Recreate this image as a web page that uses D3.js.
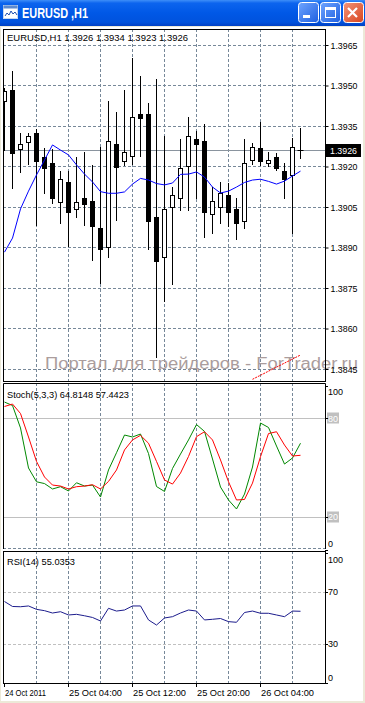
<!DOCTYPE html>
<html><head><meta charset="utf-8">
<script src="https://cdn.jsdelivr.net/npm/d3@7/dist/d3.min.js"></script>
<style>
html,body{margin:0;padding:0;background:#ECE9D8;overflow:hidden;}
svg{display:block;}
text{font-family:"Liberation Sans",Arial,sans-serif;}
</style></head><body>
<svg id="c" width="365" height="703"></svg>
<script>
// ---------------- data ----------------
const symbolName = "EURUSD";
const periodName = "H1";
const opens  = [1.39441,1.39481,1.39263,1.39289,1.39322,1.39233,1.39211,1.39067,1.39141,1.39041,1.39081,1.39070,1.38970,1.38900,1.39281,1.39219,1.39237,1.39393,1.39393,1.39011,1.38863,1.39048,1.39081,1.39200,1.39300,1.39293,1.39022,1.39048,1.39093,1.39041,1.38996,1.39222,1.39267,1.39211,1.39233,1.39181,1.39167,1.3926];
const highs  = [1.39489,1.39552,1.39322,1.39322,1.39337,1.39267,1.39263,1.39181,1.39181,1.39233,1.39252,1.39204,1.39270,1.39441,1.39400,1.39481,1.39600,1.39533,1.39433,1.39522,1.39311,1.39122,1.39300,1.39381,1.39330,1.39356,1.39122,1.39141,1.39137,1.39081,1.39300,1.39285,1.39363,1.39252,1.39248,1.39211,1.39304,1.3934];
const lows   = [1.39259,1.39119,1.39178,1.39207,1.38981,1.39100,1.39063,1.38989,1.38904,1.39011,1.38981,1.38852,1.38767,1.38863,1.39000,1.39204,1.39207,1.39237,1.38893,1.38493,1.38700,1.38763,1.39037,1.39037,1.39081,1.38937,1.38952,1.38989,1.38978,1.38930,1.38970,1.39207,1.39204,1.39200,1.39185,1.39081,1.38952,1.3923];
const closes = [1.39478,1.39248,1.39281,1.39311,1.39219,1.39193,1.39081,1.39152,1.39030,1.39067,1.39059,1.38978,1.38893,1.39293,1.39196,1.39252,1.39381,1.39378,1.38996,1.38848,1.39041,1.39093,1.39193,1.39311,1.39281,1.39030,1.39070,1.39100,1.39030,1.38989,1.39211,1.39270,1.39219,1.39222,1.39193,1.39152,1.39270,1.3926];
const maValues = [1.38881,1.38933,1.39041,1.39107,1.39167,1.39222,1.39278,1.39259,1.39241,1.39204,1.39170,1.39141,1.39105,1.39099,1.39099,1.39104,1.39133,1.39154,1.39148,1.39135,1.39130,1.39137,1.39169,1.39170,1.39178,1.39159,1.39122,1.39100,1.39107,1.39122,1.39139,1.39148,1.39151,1.39143,1.39133,1.39144,1.39163,1.39181];
const stochMain   = [89.9,87.8,74.1,49.7,41.3,40.2,36.9,38.3,35.7,40.7,38.7,39.3,32.0,48.5,59.0,69.8,68.6,70.4,58.5,38.4,35.4,49.4,58.2,66.8,76.2,72.0,55.2,38.1,30.2,24.7,33.8,50.3,77.1,74.4,63.1,52.1,55.8,64.8148];
const stochSignal = [87.2,88.7,82.9,68.6,53.7,44.2,39.3,38.7,36.9,38.3,38.7,39.5,36.9,41.5,48.5,60.7,66.8,69.6,64.8,53.7,42.4,39.9,46.6,56.7,68.8,71.8,66.8,54.6,41.3,30.2,30.5,40.5,56.6,70.7,71.8,63.7,57.0,57.4423];
const rsiValues   = [62.5,58.7,58.5,59.1,56.5,55.5,53.7,54.7,52.2,52.7,51.6,50.3,47.6,57.3,55.2,56.0,59.1,59.1,48.4,44.5,49.9,50.9,53.7,56.0,55.2,48.4,48.9,49.5,47.1,46.6,54.1,55.2,53.5,53.5,52.2,50.9,55.2,55.0353];
const priceTicks = [1.3965,1.3950,1.3935,1.3920,1.3905,1.3890,1.3875,1.3860,1.3845];
const stochAxisTicks = [100,80,20,0];
const stochLevels = [80,20];
const rsiAxisTicks = [100,70,30,0];
const rsiLevels = [70,30];
const timeLabels = ["24 Oct 2011","25 Oct 04:00","25 Oct 12:00","25 Oct 20:00","26 Oct 04:00"];
const timeLabelBars = [0,8,16,24,32];
const gridBars = [4,8,12,16,20,24,28,32,36];
const trendBars = [31,37];
const trendPrices = [1.38410,1.38500];
const watermark = "Портал для трейдеров - ForTrader.ru";

// ---------------- layout ----------------
const svg = d3.select("#c");
const P = {x0:3, x1:325};
const mainP = {y0:29, y1:381};
const stP = {y0:383, y1:549};
const rsP = {y0:551, y1:683};
const n = closes.length;
const x = d3.scaleLinear().domain([0, n-1]).range([4.5, 4.5 + 8*(n-1)]);
const yP = d3.scaleLinear().domain([1.3845,1.3965]).range([368.5,44.5]);
const yS = d3.scaleLinear().domain([0,100]).range([549.5,385.5]);
const yR = d3.scaleLinear().domain([0,100]).range([683.2,552.5]);
const GRID = "#778899";
const px = v => Math.round(v) + 0.5;

// title bar
const defs = svg.append("defs");
const g1 = defs.append("linearGradient").attr("id","tb").attr("x1",0).attr("y1",0).attr("x2",0).attr("y2",1);
[["0","#3E8EF8"],["0.12","#0C64EE"],["0.5","#0058E6"],["0.85","#0052DD"],["1","#0040C4"]].forEach(s=>g1.append("stop").attr("offset",s[0]).attr("stop-color",s[1]));
const g2 = defs.append("linearGradient").attr("id","btn").attr("x1",0).attr("y1",0).attr("x2",1).attr("y2",1);
[["0","#6FA5FF"],["1","#1E5FE0"]].forEach(s=>g2.append("stop").attr("offset",s[0]).attr("stop-color",s[1]));
const g3 = defs.append("linearGradient").attr("id","cls").attr("x1",0).attr("y1",0).attr("x2",1).attr("y2",1);
[["0","#F39478"],["1","#D8451F"]].forEach(s=>g3.append("stop").attr("offset",s[0]).attr("stop-color",s[1]));
defs.append("clipPath").attr("id","clipMain").append("rect").attr("x",P.x0+0.5).attr("y",mainP.y0+0.5).attr("width",P.x1-P.x0-1).attr("height",mainP.y1-mainP.y0-1);
defs.append("clipPath").attr("id","clipSt").append("rect").attr("x",P.x0+0.5).attr("y",stP.y0+0.5).attr("width",P.x1-P.x0-1).attr("height",stP.y1-stP.y0);
defs.append("clipPath").attr("id","clipRs").append("rect").attr("x",P.x0+0.5).attr("y",rsP.y0+0.5).attr("width",P.x1-P.x0-1).attr("height",rsP.y1-rsP.y0-1);

svg.append("rect").attr("x",0).attr("y",0).attr("width",365).attr("height",26).attr("fill","url(#tb)");
// icon
const ic = svg.append("g").attr("transform","translate(3,4)");
ic.append("rect").attr("x",0.5).attr("y",1.5).attr("width",14).attr("height",13).attr("fill","#ffffff").attr("stroke","#c8d8f0");
ic.append("rect").attr("x",0.5).attr("y",1.5).attr("width",14).attr("height",3).attr("fill","#5c8ad0");
ic.append("polyline").attr("points","2,12 4,9 6,11 8,7 10,10 12,8 14,11").attr("fill","none").attr("stroke","#2050b0").attr("stroke-width",1);
svg.append("text").attr("x",22).attr("y",18).attr("fill","#ffffff").attr("font-weight","bold").attr("font-size","14px")
  .attr("textLength",66).attr("lengthAdjust","spacingAndGlyphs").text(symbolName + " ," + periodName);
// buttons
function btn(x0, fill){ return svg.append("rect").attr("x",x0+0.5).attr("y",2.5).attr("width",20).attr("height",20).attr("rx",3).attr("fill",fill).attr("stroke","#ffffff").attr("stroke-width",1); }
btn(298,"url(#btn)");
svg.append("rect").attr("x",303).attr("y",15).attr("width",7).attr("height",3).attr("fill","#fff");
btn(320,"url(#btn)");
svg.append("rect").attr("x",325.5).attr("y",7.5).attr("width",10).attr("height",10).attr("fill","none").attr("stroke","#fff").attr("stroke-width",1);
svg.append("rect").attr("x",325).attr("y",7).attr("width",11).attr("height",3).attr("fill","#fff");
btn(343,"url(#cls)");
svg.append("path").attr("d","M348,8 L357,17 M357,8 L348,17").attr("stroke","#fff").attr("stroke-width",2.2);

// chart background
svg.append("rect").attr("x",1).attr("y",27).attr("width",362).attr("height",674).attr("fill","#ffffff");

// ---------- grids ----------
function vgrid(panel){
  svg.append("g").selectAll("line").data(gridBars).join("line")
    .attr("x1",d=>x(d)).attr("x2",d=>x(d)).attr("y1",panel.y0).attr("y2",panel.y1)
    .attr("stroke",GRID).attr("stroke-dasharray","3,2").attr("stroke-width",1);
}
vgrid(mainP); vgrid(stP); vgrid(rsP);
svg.append("g").selectAll("line").data(priceTicks).join("line")
  .attr("x1",P.x0).attr("x2",P.x1).attr("y1",d=>px(yP(d))).attr("y2",d=>px(yP(d)))
  .attr("stroke",GRID).attr("stroke-dasharray","3,2");
svg.append("line").attr("x1",P.x0).attr("x2",P.x1).attr("y1",stP.y1-0.5).attr("y2",stP.y1-0.5).attr("stroke",GRID).attr("stroke-dasharray","3,2");
svg.append("g").selectAll("line").data(stochLevels).join("line")
  .attr("x1",P.x0).attr("x2",P.x1).attr("y1",d=>px(yS(d))).attr("y2",d=>px(yS(d))).attr("stroke","#c0c0c0");
svg.append("g").selectAll("line").data(rsiLevels).join("line")
  .attr("x1",P.x0).attr("x2",P.x1).attr("y1",d=>px(yR(d))).attr("y2",d=>px(yR(d))).attr("stroke","#c0c0c0").attr("stroke-dasharray","3,2");

// watermark
svg.append("text").attr("x",45).attr("y",369).attr("font-size","16px").attr("fill","#ab9d9d")
  .attr("textLength",313).attr("lengthAdjust","spacingAndGlyphs").text(watermark);

// current price line
const lastC = closes[n-1];
svg.append("line").attr("x1",P.x0).attr("x2",P.x1).attr("y1",px(yP(lastC))).attr("y2",px(yP(lastC))).attr("stroke","#8a949e");

// ---------- candles ----------
const cg = svg.append("g").attr("clip-path","url(#clipMain)");
const idx = d3.range(n);
cg.selectAll("line.w").data(idx).join("line").attr("class","w")
  .attr("x1",i=>x(i)).attr("x2",i=>x(i)).attr("y1",i=>Math.round(yP(highs[i]))).attr("y2",i=>Math.round(yP(lows[i]))+1)
  .attr("stroke","#000").attr("stroke-width",1);
cg.selectAll("rect.b").data(idx.filter(i=>opens[i]!==closes[i])).join("rect").attr("class","b")
  .attr("x",i=>x(i)-2).attr("width",4)
  .attr("y",i=>Math.round(yP(Math.max(opens[i],closes[i])))+0.5)
  .attr("height",i=>Math.max(1,Math.round(yP(Math.min(opens[i],closes[i])))-Math.round(yP(Math.max(opens[i],closes[i])))))
  .attr("fill",i=>closes[i]>opens[i]?"#ffffff":"#000000").attr("stroke","#000").attr("stroke-width",1);
cg.selectAll("line.d").data(idx.filter(i=>opens[i]===closes[i])).join("line").attr("class","d")
  .attr("x1",i=>x(i)-3).attr("x2",i=>x(i)+3).attr("y1",i=>px(yP(opens[i]))).attr("y2",i=>px(yP(opens[i])))
  .attr("stroke","#000");
// MA
cg.append("path").datum(idx).attr("fill","none").attr("stroke","#0000ff").attr("stroke-width",1)
  .attr("d",d3.line().x(i=>x(i)).y(i=>yP(maValues[i])));
// trend line
svg.append("line").attr("x1",x(trendBars[0])).attr("y1",yP(trendPrices[0])).attr("x2",x(trendBars[1])).attr("y2",yP(trendPrices[1]))
  .attr("stroke","#ff0000").attr("stroke-width",1).attr("stroke-dasharray","2,1");

// ---------- stochastic ----------
const sg = svg.append("g").attr("clip-path","url(#clipSt)");
sg.append("path").datum(idx).attr("fill","none").attr("stroke","#008800").attr("stroke-width",1)
  .attr("d",d3.line().x(i=>x(i)).y(i=>yS(stochMain[i])));
sg.append("path").datum(idx).attr("fill","none").attr("stroke","#ff0000").attr("stroke-width",1)
  .attr("d",d3.line().x(i=>x(i)).y(i=>yS(stochSignal[i])));

// ---------- RSI ----------
const rg = svg.append("g").attr("clip-path","url(#clipRs)");
rg.append("path").datum(idx).attr("fill","none").attr("stroke","#1c1c8c").attr("stroke-width",1)
  .attr("d",d3.line().x(i=>x(i)).y(i=>yR(rsiValues[i])));

// ---------- panel borders ----------
svg.append("rect").attr("x",P.x0+0.5).attr("y",mainP.y0+0.5).attr("width",P.x1-P.x0).attr("height",mainP.y1-mainP.y0).attr("fill","none").attr("stroke","#000");
svg.append("path").attr("d",`M${P.x0+0.5},${stP.y1} V${stP.y0+0.5} H${P.x1+0.5} V${stP.y1}`).attr("fill","none").attr("stroke","#000");
svg.append("rect").attr("x",P.x0+0.5).attr("y",rsP.y0+0.5).attr("width",P.x1-P.x0).attr("height",rsP.y1-rsP.y0).attr("fill","none").attr("stroke","#000");

// ---------- axes ----------
const FS = "9.5px";
const pa = svg.append("g").attr("transform",`translate(${P.x1+0.5},0)`)
  .call(d3.axisRight(d3.scaleLinear().domain(yP.domain()).range([yP(1.3845)+0.5,yP(1.3965)+0.5]))
        .tickValues(priceTicks).tickFormat(d3.format(".4f")).tickSize(3).tickPadding(2));
pa.select(".domain").remove();
pa.selectAll("line").attr("stroke","#000");
pa.selectAll("text").attr("font-size",FS).attr("font-family","Liberation Sans, Arial, sans-serif").attr("fill","#000")
  .attr("textLength",27).attr("lengthAdjust","spacingAndGlyphs");

// current price label
const cy = px(yP(lastC));
svg.append("rect").attr("x",326).attr("y",cy-6.5).attr("width",35).attr("height",13).attr("fill","#000");
svg.append("text").attr("x",330).attr("y",cy+3.5).attr("fill","#fff").attr("font-size",FS)
  .attr("textLength",27).attr("lengthAdjust","spacingAndGlyphs").text(d3.format(".4f")(lastC));

// indicator axes
function indAxis(ticks, levels, scale, panel, boxed){
  ticks.forEach(t=>{
    let y = scale(t);
    y = Math.max(panel.y0+8.5, Math.min(panel.y1-5.5, y));
    const isLvl = boxed && levels.includes(t);
    const str = String(t);
    const w = str.length*5;
    if(isLvl){
      svg.append("rect").attr("x",327).attr("y",Math.round(y)-5.5).attr("width",w+2).attr("height",11).attr("fill","#c0c0c0");
    }
    svg.append("line").attr("x1",P.x1).attr("x2",P.x1+3).attr("y1",px(scale(t))).attr("y2",px(scale(t))).attr("stroke","#000");
    svg.append("text").attr("x",328).attr("y",y+3.5).attr("font-size",FS).attr("fill",isLvl?"#ffffff":"#000")
      .attr("textLength",w).attr("lengthAdjust","spacingAndGlyphs").text(str);
  });
}
indAxis(stochAxisTicks, stochLevels, yS, stP, true);
indAxis(rsiAxisTicks, rsiLevels, yR, rsP, false);

// time axis
const ta = svg.append("g");
timeLabelBars.forEach((b,i)=>{
  ta.append("line").attr("x1",x(b)).attr("x2",x(b)).attr("y1",rsP.y1).attr("y2",rsP.y1+4).attr("stroke","#000");
  ta.append("text").attr("x",x(b)+0.5).attr("y",696).attr("font-size",FS).attr("fill","#000")
    .attr("textLength",i===0?41:53).attr("lengthAdjust","spacingAndGlyphs").text(timeLabels[i]);
});

// panel labels
const f4 = d3.format(".4f");
svg.append("text").attr("x",7).attr("y",41).attr("font-size",FS).attr("fill","#000")
  .attr("textLength",181).attr("lengthAdjust","spacingAndGlyphs")
  .text(`${symbolName},${periodName}  ${f4(opens[n-1])} ${f4(highs[n-1])} ${f4(lows[n-1])} ${f4(closes[n-1])}`);
svg.append("text").attr("x",7).attr("y",398).attr("font-size",FS).attr("fill","#000")
  .attr("textLength",122).attr("lengthAdjust","spacingAndGlyphs")
  .text(`Stoch(5,3,3) ${f4(stochMain[n-1])} ${f4(stochSignal[n-1])}`);
svg.append("text").attr("x",7).attr("y",565).attr("font-size",FS).attr("fill","#000")
  .attr("textLength",68).attr("lengthAdjust","spacingAndGlyphs")
  .text(`RSI(14) ${f4(rsiValues[n-1])}`);
</script>
</body></html>
